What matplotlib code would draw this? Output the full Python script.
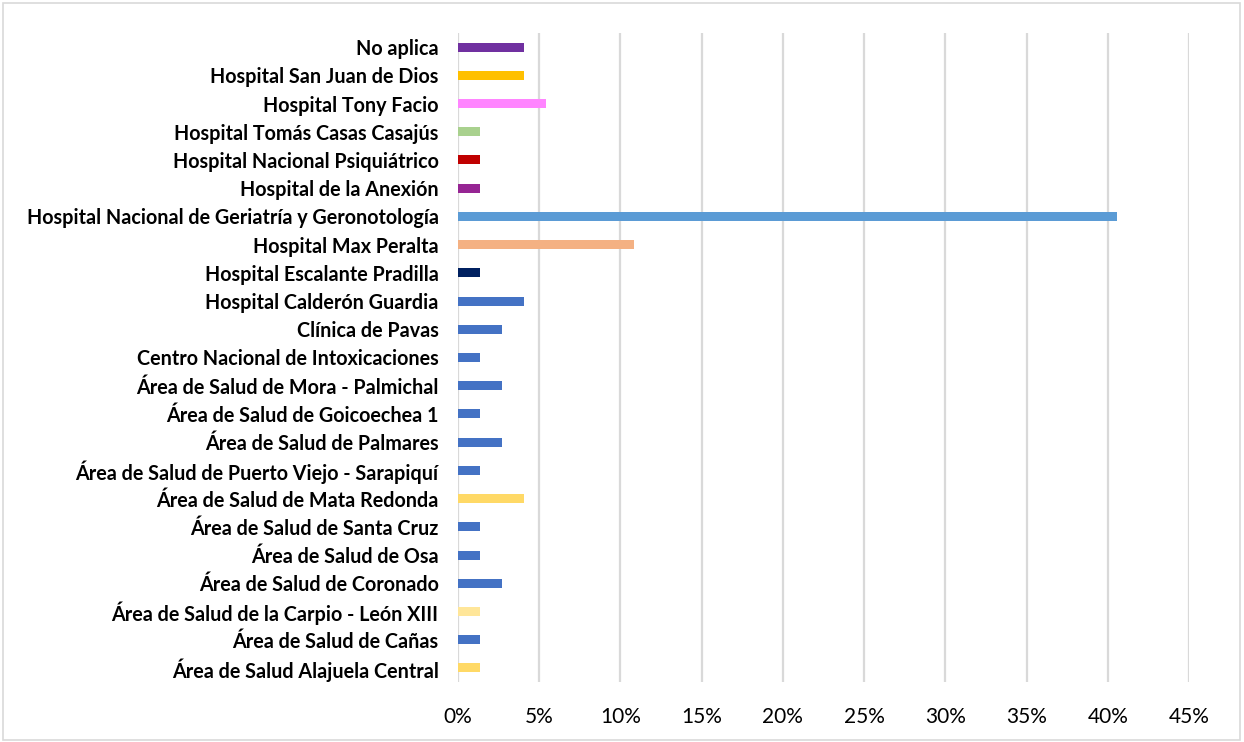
import matplotlib
matplotlib.use("Agg")
import matplotlib.pyplot as plt
from matplotlib.patches import Rectangle
from matplotlib.ticker import FuncFormatter

categories = [
    "No aplica",
    "Hospital San Juan de Dios",
    "Hospital Tony Facio",
    "Hospital Tomás Casas Casajús",
    "Hospital Nacional Psiquiátrico",
    "Hospital de la Anexión",
    "Hospital Nacional de Geriatría y Geronotología",
    "Hospital Max Peralta",
    "Hospital Escalante Pradilla",
    "Hospital Calderón Guardia",
    "Clínica de Pavas",
    "Centro Nacional de Intoxicaciones",
    "Área de Salud de Mora - Palmichal",
    "Área de Salud de Goicoechea 1",
    "Área de Salud de Palmares",
    "Área de Salud de Puerto Viejo - Sarapiquí",
    "Área de Salud de Mata Redonda",
    "Área de Salud de Santa Cruz",
    "Área de Salud de Osa",
    "Área de Salud de Coronado",
    "Área de Salud de la Carpio - León XIII",
    "Área de Salud de Cañas",
    "Área de Salud Alajuela Central",
]
values_pct = [4.05, 4.05, 5.41, 1.35, 1.35, 1.35, 40.54, 10.81, 1.35, 4.05, 2.70,
              1.35, 2.70, 1.35, 2.70, 1.35, 4.05, 1.35, 1.35, 2.70, 1.35, 1.35, 1.35]
colors = ["#7030A0", "#FFC000", "#FF85FF", "#A9D18E", "#C00000", "#962593",
          "#5B9BD5", "#F4B183", "#002060", "#4472C4", "#4472C4", "#4472C4",
          "#4472C4", "#4472C4", "#4472C4", "#4472C4", "#FFD966", "#4472C4",
          "#4472C4", "#4472C4", "#FFE699", "#4472C4", "#FFD966"]
xticks_pct = [0, 5, 10, 15, 20, 25, 30, 35, 40, 45]

plt.rcParams['font.family'] = ['Lato', 'DejaVu Sans']

fig = plt.figure(figsize=(12.44, 7.42), dpi=100)
ax = fig.add_axes([458/1244, 1-682/742, (1189-458)/1244, (682-33)/742])

n = len(categories)
ypos = list(range(n))
ax.barh(ypos, values_pct, height=0.32, color=colors, zorder=3)
ax.set_ylim(n - 0.5, -0.5)
ax.set_xlim(0, 45)
ax.set_yticks(ypos)
ax.set_yticklabels(categories, fontsize=14.2, fontweight='bold', color='black')
ax.set_xticks(xticks_pct)
ax.xaxis.set_major_formatter(FuncFormatter(lambda v, p: f"{int(v)}%"))
ax.tick_params(axis='x', length=0, pad=18, labelsize=15, colors='black')
ax.tick_params(axis='y', length=0, pad=14)
ax.grid(axis='x', color='#d9d9d9', linewidth=1.6, zorder=0)
ax.grid(axis='y', visible=False)
for s in ax.spines.values():
    s.set_visible(False)

fig.patches.append(Rectangle((3/1244, 2/742), 1237/1244, 737/742, transform=fig.transFigure,
                             fill=False, edgecolor='#d9d9d9', linewidth=1.2))
fig.savefig("out.png", dpi=100)
